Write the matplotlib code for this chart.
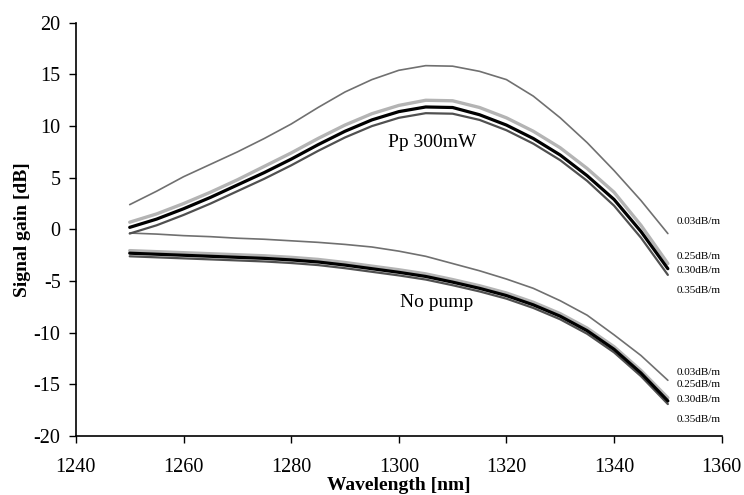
import matplotlib
matplotlib.use('Agg')
from matplotlib import pyplot as plt
from matplotlib.ticker import FuncFormatter, MultipleLocator

plt.rcParams['font.family'] = ['Liberation Serif', 'DejaVu Serif']
plt.rcParams['axes.unicode_minus'] = False

wavelength = [1250, 1255, 1260, 1265, 1270, 1275, 1280, 1285, 1290, 1295, 1300,
              1305, 1310, 1315, 1320, 1325, 1330, 1335, 1340, 1345, 1350]

# Pp 300mW curves
pump_003 = [2.4, 3.7, 5.1, 6.3, 7.5, 8.8, 10.2, 11.8, 13.3, 14.5, 15.4,
            15.85, 15.8, 15.3, 14.5, 12.9, 10.8, 8.4, 5.7, 2.8, -0.4]
pump_025 = [0.7, 1.5, 2.5, 3.6, 4.8, 6.1, 7.4, 8.8, 10.1, 11.2, 12.0,
            12.5, 12.45, 11.8, 10.8, 9.5, 7.9, 5.9, 3.6, 0.4, -3.3]
pump_030 = [0.2, 1.0, 2.0, 3.1, 4.3, 5.5, 6.8, 8.2, 9.5, 10.6, 11.4,
            11.85, 11.8, 11.1, 10.1, 8.8, 7.2, 5.2, 2.9, -0.2, -3.8]
pump_035 = [-0.4, 0.4, 1.4, 2.5, 3.7, 4.9, 6.2, 7.6, 8.9, 10.0, 10.8,
            11.25, 11.2, 10.6, 9.6, 8.3, 6.7, 4.7, 2.3, -0.8, -4.4]

# no pump curves
nopump_003 = [-0.35, -0.45, -0.6, -0.7, -0.85, -0.95, -1.1, -1.25, -1.45, -1.7, -2.1,
              -2.6, -3.3, -4.0, -4.8, -5.7, -6.9, -8.3, -10.2, -12.2, -14.6]
nopump_025 = [-2.05, -2.15, -2.25, -2.35, -2.45, -2.55, -2.7, -2.9, -3.2, -3.55, -3.9,
              -4.3, -4.85, -5.45, -6.15, -7.05, -8.15, -9.55, -11.35, -13.65, -16.3]
nopump_030 = [-2.3, -2.4, -2.5, -2.6, -2.7, -2.8, -2.95, -3.15, -3.45, -3.8, -4.15,
              -4.55, -5.1, -5.7, -6.4, -7.3, -8.4, -9.8, -11.6, -13.9, -16.6]
nopump_035 = [-2.6, -2.7, -2.8, -2.9, -3.0, -3.1, -3.25, -3.45, -3.75, -4.1, -4.45,
              -4.85, -5.4, -6.0, -6.7, -7.6, -8.7, -10.1, -11.9, -14.2, -16.9]

loss_labels = ['0.03dB/m', '0.25dB/m', '0.30dB/m', '0.35dB/m']
pump_label_y = [0.8, -2.6, -4.0, -5.9]
nopump_label_y = [-13.8, -15.0, -16.5, -18.4]

fig, ax = plt.subplots(figsize=(7.44, 4.95), dpi=100)
fig.subplots_adjust(left=0.102, right=0.970, bottom=0.119, top=0.954)

# line look for each loss value: colour, width
styles = {
    '0.03': ('#707070', 1.2),
    '0.25': ('#b4b4b4', 2.4),
    '0.35': ('#505050', 1.6),
    '0.30': ('#000000', 2.3),
}
pump = {'0.03': pump_003, '0.25': pump_025, '0.35': pump_035, '0.30': pump_030}
nopump = {'0.03': nopump_003, '0.25': nopump_025, '0.35': nopump_035, '0.30': nopump_030}

for key in ['0.03', '0.25', '0.35', '0.30']:
    c, lw = styles[key]
    ax.plot(wavelength, pump[key], color=c, lw=lw, solid_capstyle='round')
    ax.plot(wavelength, nopump[key], color=c, lw=lw, solid_capstyle='round')

for lab, y in zip(loss_labels, pump_label_y):
    ax.text(1351.6, y, lab, fontsize=8, va='center', ha='left')
for lab, y in zip(loss_labels, nopump_label_y):
    ax.text(1351.6, y, lab, fontsize=8, va='center', ha='left')

ax.text(1298.0, 8.4, 'Pp 300mW', fontsize=14, va='center', ha='left')
ax.text(1300.2, -7.1, 'No pump', fontsize=14, va='center', ha='left')

ax.set_xlim(1240, 1360)
ax.set_ylim(-20, 20)
ax.xaxis.set_major_locator(MultipleLocator(20))
ax.yaxis.set_major_locator(MultipleLocator(5))
ax.yaxis.set_major_formatter(FuncFormatter(lambda v, p: '%d' % v))

ax.spines['top'].set_visible(False)
ax.spines['right'].set_visible(False)
ax.spines['left'].set_linewidth(1.2)
ax.spines['bottom'].set_linewidth(1.2)
ax.tick_params(axis='both', direction='out', length=5, width=1.0, labelsize=14.5)
ax.tick_params(axis='x', pad=11)
ax.tick_params(axis='y', pad=6)

ax.set_xlabel('Wavelength [nm]', fontsize=14, fontweight='bold', labelpad=0)
ax.set_ylabel('Signal gain [dB]', fontsize=14, fontweight='bold', labelpad=2)

plt.savefig('out.png', dpi=100)
